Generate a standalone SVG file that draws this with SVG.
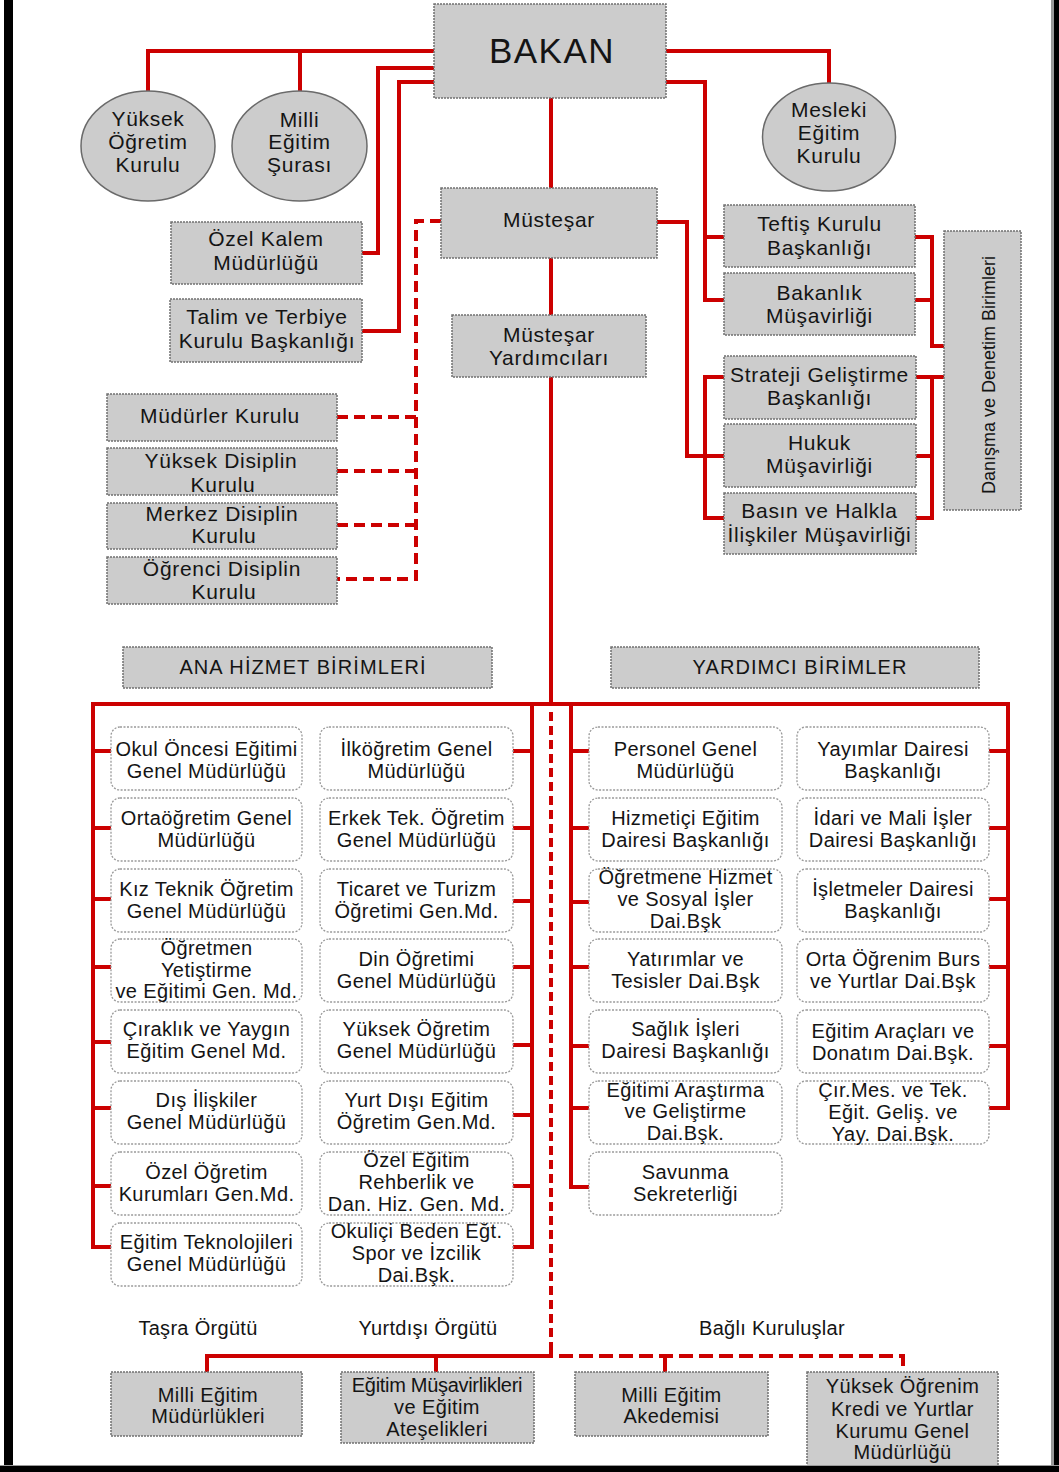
<svg xmlns="http://www.w3.org/2000/svg" width="1059" height="1472" viewBox="0 0 1059 1472">
<style>
.ln{fill:none;stroke:#cc0000;stroke-width:4;stroke-linejoin:miter;stroke-linecap:butt}
.d1{stroke-dasharray:11 6}
.d2{stroke-dasharray:9 5}
.d3{stroke-dasharray:14 6}
.g{fill:#cccccc;stroke:#707070;stroke-width:1.5;stroke-dasharray:2 1}
.e{fill:#cccccc;stroke:#6a6a6a;stroke-width:1.5}
.w{fill:#ffffff;stroke:#9a9a9a;stroke-width:1.3;stroke-dasharray:2 1.5}
text{font-family:"Liberation Sans",Arial,sans-serif;fill:#141414;text-anchor:middle}
.t{font-size:21px;letter-spacing:0.7px}
.s{font-size:20px;letter-spacing:0.4px}
.h{font-size:20px;letter-spacing:1.1px}
</style>
<rect x="0" y="0" width="1059" height="1472" fill="#ffffff"/>

<g id="connectors">
  <path class="ln" d="M551 98 V704"/>
  <path class="ln" d="M434 51 H148 V91 M300 51 V91"/>
  <path class="ln" d="M434 68 H378 V253 H362"/>
  <path class="ln" d="M434 82 H399 V331 H362"/>
  <path class="ln" d="M666 51 H829 V83"/>
  <path class="ln" d="M666 82 H705 V300 H724 M705 237 H724"/>
  <path class="ln" d="M915 237 H932 V346 H944 M915 300 H932"/>
  <path class="ln" d="M657 222 H687 V456 H724"/>
  <path class="ln" d="M724 377 H705 V518 H724"/>
  <path class="ln" d="M916 377 H944 M932 377 V518 H916 M916 456 H932"/>
  <path class="ln d1" d="M441 221 H416 V579 H337"/>
  <path class="ln d1" d="M337 417 H416 M337 471 H416 M337 525 H416"/>
  <path class="ln" d="M111 1247 H93 V704 H1008 V1108 H989"/>
  <path class="ln" d="M93 751 H111 M93 828 H111 M93 899 H111 M93 967 H111 M93 1042 H111 M93 1108 H111 M93 1186 H111"/>
  <path class="ln" d="M513 1247 H532 V704"/>
  <path class="ln" d="M513 751 H532 M513 828 H532 M513 901 H532 M513 967 H532 M513 1045 H532 M513 1115 H532 M513 1186 H532"/>
  <path class="ln" d="M589 1187 H571 V704"/>
  <path class="ln" d="M571 751 H589 M571 828 H589 M571 902 H589 M571 967 H589 M571 1046 H589 M571 1108 H589"/>
  <path class="ln" d="M989 751 H1008 M989 828 H1008 M989 899 H1008 M989 967 H1008 M989 1046 H1008"/>
  <path class="ln d2" d="M551 712 V1346"/>
  <path class="ln" d="M551 1346 V1356 H207 V1372 M436 1356 V1372"/>
  <path class="ln d3" d="M559 1356 H903 V1372"/>
  <path class="ln" d="M665 1356 V1372"/>
</g>

<g id="bakan"><rect class="g" x="434" y="4" width="232" height="94"/><text x="552" y="63" style="font-size:35px;letter-spacing:1.5px">BAKAN</text></g>

<g id="yok"><ellipse class="e" cx="148" cy="146" rx="67" ry="55"/><text class="t" x="148" y="126">Yüksek</text><text class="t" x="148" y="149">Öğretim</text><text class="t" x="148" y="172">Kurulu</text></g>
<g id="mes"><ellipse class="e" cx="299.5" cy="146" rx="67.5" ry="55"/><text class="t" x="299.5" y="127">Milli</text><text class="t" x="299.5" y="149">Eğitim</text><text class="t" x="299.5" y="172">Şurası</text></g>
<g id="mek"><ellipse class="e" cx="829" cy="137" rx="66.5" ry="54"/><text class="t" x="829" y="117">Mesleki</text><text class="t" x="829" y="140">Eğitim</text><text class="t" x="829" y="163">Kurulu</text></g>

<g id="ozelkalem"><rect class="g" x="171" y="222" width="191" height="62"/><text class="t" x="266" y="246">Özel Kalem</text><text class="t" x="266" y="270">Müdürlüğü</text></g>
<g id="talim"><rect class="g" x="170" y="299" width="192" height="63"/><text class="t" x="267" y="324">Talim ve Terbiye</text><text class="t" x="267" y="348">Kurulu Başkanlığı</text></g>
<g id="mustesar"><rect class="g" x="441" y="188" width="216" height="70"/><text class="t" x="549" y="227">Müsteşar</text></g>
<g id="mustesar-yrd"><rect class="g" x="452" y="315" width="194" height="62"/><text class="t" x="549" y="342">Müsteşar</text><text class="t" x="549" y="365">Yardımcıları</text></g>

<g id="teftis"><rect class="g" x="724" y="205" width="191" height="62"/><text class="t" x="819.5" y="231">Teftiş Kurulu</text><text class="t" x="819.5" y="255">Başkanlığı</text></g>
<g id="bakanlik"><rect class="g" x="724" y="273" width="191" height="62"/><text class="t" x="819.5" y="300">Bakanlık</text><text class="t" x="819.5" y="323">Müşavirliği</text></g>
<g id="strateji"><rect class="g" x="724" y="356" width="192" height="63"/><text class="t" x="819.5" y="382">Strateji Geliştirme</text><text class="t" x="819.5" y="405">Başkanlığı</text></g>
<g id="hukuk"><rect class="g" x="724" y="424" width="192" height="63"/><text class="t" x="819.5" y="450">Hukuk</text><text class="t" x="819.5" y="473">Müşavirliği</text></g>
<g id="basin"><rect class="g" x="724" y="493" width="192" height="61"/><text class="t" x="819.5" y="518">Basın ve Halkla</text><text class="t" x="819.5" y="542">İlişkiler Müşavirliği</text></g>
<g id="danisma"><rect class="g" x="944" y="231" width="77" height="279"/><text transform="translate(995 375) rotate(-90)" style="font-size:18px">Danışma ve Denetim Birimleri</text></g>

<g id="mudurler"><rect class="g" x="107" y="394" width="230" height="47"/><text class="t" x="220" y="423">Müdürler Kurulu</text></g>
<g id="yuksek-disiplin"><rect class="g" x="107" y="448" width="230" height="47"/><text class="t" x="221" y="468">Yüksek Disiplin</text><text class="t" x="223" y="492">Kurulu</text></g>
<g id="merkez-disiplin"><rect class="g" x="107" y="503" width="230" height="46"/><text class="t" x="222" y="521">Merkez Disiplin</text><text class="t" x="224" y="543">Kurulu</text></g>
<g id="ogrenci-disiplin"><rect class="g" x="107" y="557" width="230" height="47"/><text class="t" x="222" y="576">Öğrenci Disiplin</text><text class="t" x="224" y="599">Kurulu</text></g>

<g id="ana-hizmet"><rect class="g" x="123" y="647" width="369" height="41"/><text class="h" x="303" y="674">ANA HİZMET BİRİMLERİ</text></g>
<g id="yardimci"><rect class="g" x="611" y="647" width="368" height="41"/><text class="h" x="800" y="674">YARDIMCI BİRİMLER</text></g>

<g id="a1"><rect class="w" x="111" y="727" width="191" height="63" rx="9"/><text class="s" x="206.5" y="756">Okul Öncesi Eğitimi</text><text class="s" x="206.5" y="778">Genel Müdürlüğü</text></g>
<g id="a2"><rect class="w" x="111" y="798" width="191" height="63" rx="9"/><text class="s" x="206.5" y="825">Ortaöğretim Genel</text><text class="s" x="206.5" y="847">Müdürlüğü</text></g>
<g id="a3"><rect class="w" x="111" y="869" width="191" height="63" rx="9"/><text class="s" x="206.5" y="896">Kız Teknik Öğretim</text><text class="s" x="206.5" y="918">Genel Müdürlüğü</text></g>
<g id="a4"><rect class="w" x="111" y="939" width="191" height="63" rx="9"/><text class="s" x="206.5" y="955">Öğretmen</text><text class="s" x="206.5" y="977">Yetiştirme</text><text class="s" x="206.5" y="998">ve Eğitimi Gen. Md.</text></g>
<g id="a5"><rect class="w" x="111" y="1010" width="191" height="63" rx="9"/><text class="s" x="206.5" y="1036">Çıraklık ve Yaygın</text><text class="s" x="206.5" y="1058">Eğitim Genel Md.</text></g>
<g id="a6"><rect class="w" x="111" y="1081" width="191" height="63" rx="9"/><text class="s" x="206.5" y="1107">Dış İlişkiler</text><text class="s" x="206.5" y="1129">Genel Müdürlüğü</text></g>
<g id="a7"><rect class="w" x="111" y="1152" width="191" height="63" rx="9"/><text class="s" x="206.5" y="1179">Özel Öğretim</text><text class="s" x="206.5" y="1201">Kurumları Gen.Md.</text></g>
<g id="a8"><rect class="w" x="111" y="1223" width="191" height="63" rx="9"/><text class="s" x="206.5" y="1249">Eğitim Teknolojileri</text><text class="s" x="206.5" y="1271">Genel Müdürlüğü</text></g>

<g id="b1"><rect class="w" x="320" y="727" width="193" height="63" rx="9"/><text class="s" x="416.5" y="756">İlköğretim Genel</text><text class="s" x="416.5" y="778">Müdürlüğü</text></g>
<g id="b2"><rect class="w" x="320" y="798" width="193" height="63" rx="9"/><text class="s" x="416.5" y="825">Erkek Tek. Öğretim</text><text class="s" x="416.5" y="847">Genel Müdürlüğü</text></g>
<g id="b3"><rect class="w" x="320" y="869" width="193" height="63" rx="9"/><text class="s" x="416.5" y="896">Ticaret ve Turizm</text><text class="s" x="416.5" y="918">Öğretimi Gen.Md.</text></g>
<g id="b4"><rect class="w" x="320" y="939" width="193" height="63" rx="9"/><text class="s" x="416.5" y="966">Din Öğretimi</text><text class="s" x="416.5" y="988">Genel Müdürlüğü</text></g>
<g id="b5"><rect class="w" x="320" y="1010" width="193" height="63" rx="9"/><text class="s" x="416.5" y="1036">Yüksek Öğretim</text><text class="s" x="416.5" y="1058">Genel Müdürlüğü</text></g>
<g id="b6"><rect class="w" x="320" y="1081" width="193" height="63" rx="9"/><text class="s" x="416.5" y="1107">Yurt Dışı Eğitim</text><text class="s" x="416.5" y="1129">Öğretim Gen.Md.</text></g>
<g id="b7"><rect class="w" x="320" y="1152" width="193" height="63" rx="9"/><text class="s" x="416.5" y="1167">Özel Eğitim</text><text class="s" x="416.5" y="1189">Rehberlik ve</text><text class="s" x="416.5" y="1211">Dan. Hiz. Gen. Md.</text></g>
<g id="b8"><rect class="w" x="320" y="1223" width="193" height="63" rx="9"/><text class="s" x="416.5" y="1238">Okuliçi Beden Eğt.</text><text class="s" x="416.5" y="1260">Spor ve İzcilik</text><text class="s" x="416.5" y="1282">Dai.Bşk.</text></g>

<g id="c1"><rect class="w" x="589" y="727" width="193" height="63" rx="9"/><text class="s" x="685.5" y="756">Personel Genel</text><text class="s" x="685.5" y="778">Müdürlüğü</text></g>
<g id="c2"><rect class="w" x="589" y="798" width="193" height="63" rx="9"/><text class="s" x="685.5" y="825">Hizmetiçi Eğitim</text><text class="s" x="685.5" y="847">Dairesi Başkanlığı</text></g>
<g id="c3"><rect class="w" x="589" y="869" width="193" height="63" rx="9"/><text class="s" x="685.5" y="884">Öğretmene Hizmet</text><text class="s" x="685.5" y="906">ve Sosyal İşler</text><text class="s" x="685.5" y="928">Dai.Bşk</text></g>
<g id="c4"><rect class="w" x="589" y="939" width="193" height="63" rx="9"/><text class="s" x="685.5" y="966">Yatırımlar ve</text><text class="s" x="685.5" y="988">Tesisler Dai.Bşk</text></g>
<g id="c5"><rect class="w" x="589" y="1010" width="193" height="63" rx="9"/><text class="s" x="685.5" y="1036">Sağlık İşleri</text><text class="s" x="685.5" y="1058">Dairesi Başkanlığı</text></g>
<g id="c6"><rect class="w" x="589" y="1081" width="193" height="63" rx="9"/><text class="s" x="685.5" y="1097">Eğitimi Araştırma</text><text class="s" x="685.5" y="1118">ve Geliştirme</text><text class="s" x="685.5" y="1140">Dai.Bşk.</text></g>
<g id="c7"><rect class="w" x="589" y="1152" width="193" height="63" rx="9"/><text class="s" x="685.5" y="1179">Savunma</text><text class="s" x="685.5" y="1201">Sekreterliği</text></g>

<g id="d1"><rect class="w" x="797" y="727" width="192" height="63" rx="9"/><text class="s" x="893" y="756">Yayımlar Dairesi</text><text class="s" x="893" y="778">Başkanlığı</text></g>
<g id="d2"><rect class="w" x="797" y="798" width="192" height="63" rx="9"/><text class="s" x="893" y="825">İdari ve Mali İşler</text><text class="s" x="893" y="847">Dairesi Başkanlığı</text></g>
<g id="d3"><rect class="w" x="797" y="869" width="192" height="63" rx="9"/><text class="s" x="893" y="896">İşletmeler Dairesi</text><text class="s" x="893" y="918">Başkanlığı</text></g>
<g id="d4"><rect class="w" x="797" y="939" width="192" height="63" rx="9"/><text class="s" x="893" y="966">Orta Öğrenim Burs</text><text class="s" x="893" y="988">ve Yurtlar Dai.Bşk</text></g>
<g id="d5"><rect class="w" x="797" y="1010" width="192" height="63" rx="9"/><text class="s" x="893" y="1038">Eğitim Araçları ve</text><text class="s" x="893" y="1060">Donatım Dai.Bşk.</text></g>
<g id="d6"><rect class="w" x="797" y="1081" width="192" height="63" rx="9"/><text class="s" x="893" y="1097">Çır.Mes. ve Tek.</text><text class="s" x="893" y="1119">Eğit. Geliş. ve</text><text class="s" x="893" y="1141">Yay. Dai.Bşk.</text></g>

<text class="s" x="198" y="1335" style="letter-spacing:0.3px">Taşra Örgütü</text>
<text class="s" x="428" y="1335" style="letter-spacing:0.3px">Yurtdışı Örgütü</text>
<text class="s" x="772" y="1335" style="letter-spacing:0.3px">Bağlı Kuruluşlar</text>

<g id="mem"><rect class="g" x="111" y="1372" width="191" height="64"/><text class="s" x="208" y="1402">Milli Eğitim</text><text class="s" x="208" y="1423">Müdürlükleri</text></g>
<g id="emus"><rect class="g" x="341" y="1372" width="193" height="71"/><text class="s" x="437" y="1392" style="letter-spacing:-0.3px">Eğitim Müşavirlikleri</text><text class="s" x="437" y="1414">ve Eğitim</text><text class="s" x="437" y="1436">Ateşelikleri</text></g>
<g id="mea"><rect class="g" x="575" y="1372" width="193" height="64"/><text class="s" x="671.5" y="1402">Milli Eğitim</text><text class="s" x="671.5" y="1423">Akedemisi</text></g>
<g id="ykk"><rect class="g" x="807" y="1372" width="191" height="98"/><text class="s" x="902.5" y="1393">Yüksek Öğrenim</text><text class="s" x="902.5" y="1416">Kredi ve Yurtlar</text><text class="s" x="902.5" y="1438">Kurumu Genel</text><text class="s" x="902.5" y="1459">Müdürlüğü</text></g>

<rect x="4" y="0" width="9" height="1472" fill="#000"/>
<rect x="1051" y="0" width="3" height="1472" fill="#9a9a9a"/>
<rect x="1054" y="0" width="5" height="1472" fill="#000"/>
<rect x="0" y="1465" width="1059" height="1" fill="#9a9a9a"/>
<rect x="0" y="1466" width="1059" height="6" fill="#000"/>
</svg>
